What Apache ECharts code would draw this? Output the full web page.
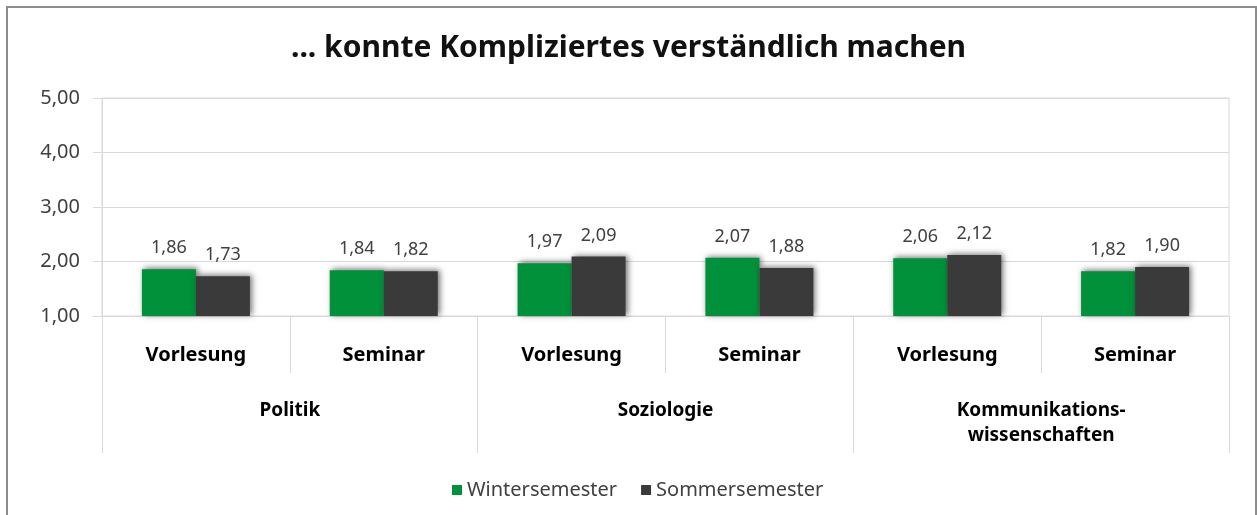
<!DOCTYPE html>
<html>
<head>
<meta charset="utf-8">
<script src="https://cdn.jsdelivr.net/npm/echarts@6/dist/echarts.min.js"></script>
<style>
  html, body { margin: 0; padding: 0; background: #fff; }
  #chart { width: 1257px; height: 515px; }
</style>
</head>
<body>
<div id="chart"></div>
<script>
// Daten
const veranstaltungen = ["Vorlesung", "Seminar", "Vorlesung", "Seminar", "Vorlesung", "Seminar"];
const faecher = ["Politik", "Soziologie", "Kommunikations-\nwissenschaften"];
const wintersemester = [1.86, 1.84, 1.97, 2.07, 2.06, 1.82];
const sommersemester = [1.73, 1.82, 2.09, 1.88, 2.12, 1.90];
const yTicks = [1, 2, 3, 4, 5];

const komma = v => v.toFixed(2).replace(".", ",");
const grau = "#d9d9d9";

let myChart = echarts.init(document.getElementById("chart"));

let barLabel = {
  show: true,
  position: "top",
  distance: 12,
  fontFamily: "Noto Sans",
  fontSize: 18,
  color: "#404040",
  formatter: p => komma(p.value)
};
let barShadow = {
  shadowBlur: 6,
  shadowOffsetX: 2,
  shadowOffsetY: -1,
  shadowColor: "rgba(0,0,0,0.55)"
};

let option = {
  animation: false,
  textStyle: { fontFamily: "Noto Sans" },
  title: {
    text: "... konnte Kompliziertes verständlich machen",
    left: "center",
    top: 28,
    textStyle: { fontSize: 30, fontWeight: "bold", color: "#111", fontFamily: "Noto Sans" }
  },
  legend: {
    data: ["Wintersemester", "Sommersemester"],
    left: 447,
    top: 475,
    icon: "rect",
    itemWidth: 10,
    itemHeight: 10,
    itemGap: 24,
    textStyle: { fontSize: 20, color: "#404040" }
  },
  graphic: [{
    type: "rect",
    shape: { x: 7, y: 7, width: 1249, height: 600 },
    style: { fill: "none", stroke: "#8c8c8c", lineWidth: 2 }
  }],
  grid: {
    left: 102, right: 28, top: 98, bottom: 199,
    show: true, borderColor: grau, borderWidth: 1
  },
  xAxis: [
    {
      type: "category",
      data: veranstaltungen,
      axisLine: { lineStyle: { color: grau } },
      axisTick: { show: true, interval: 0, length: 57, lineStyle: { color: grau } },
      axisLabel: { interval: 0, margin: 29, fontSize: 20, fontWeight: "bold", color: "#000" }
    },
    {
      type: "category",
      data: faecher,
      position: "bottom",
      axisLine: { show: false },
      axisTick: { show: true, interval: 0, length: 137, lineStyle: { color: grau } },
      axisLabel: { interval: 0, margin: 82, fontSize: 19, fontWeight: "bold", color: "#000", lineHeight: 25, verticalAlign: "top" }
    }
  ],
  yAxis: {
    type: "value",
    min: yTicks[0],
    max: yTicks[yTicks.length - 1],
    interval: 1,
    axisLine: { show: true, lineStyle: { color: grau } },
    axisTick: { show: true, length: 9, lineStyle: { color: grau } },
    splitLine: { lineStyle: { color: grau } },
    axisLabel: { margin: 22, fontSize: 20, color: "#404040", formatter: v => komma(v) }
  },
  series: [
    {
      name: "Wintersemester",
      type: "bar",
      data: wintersemester,
      barWidth: 54,
      barGap: "0%",
      itemStyle: Object.assign({ color: "#00913a" }, barShadow),
      label: barLabel
    },
    {
      name: "Sommersemester",
      type: "bar",
      data: sommersemester,
      barWidth: 54,
      barGap: "0%",
      itemStyle: Object.assign({ color: "#3a3a3a" }, barShadow),
      label: barLabel
    }
  ]
};
myChart.setOption(option);
</script>
</body>
</html>
